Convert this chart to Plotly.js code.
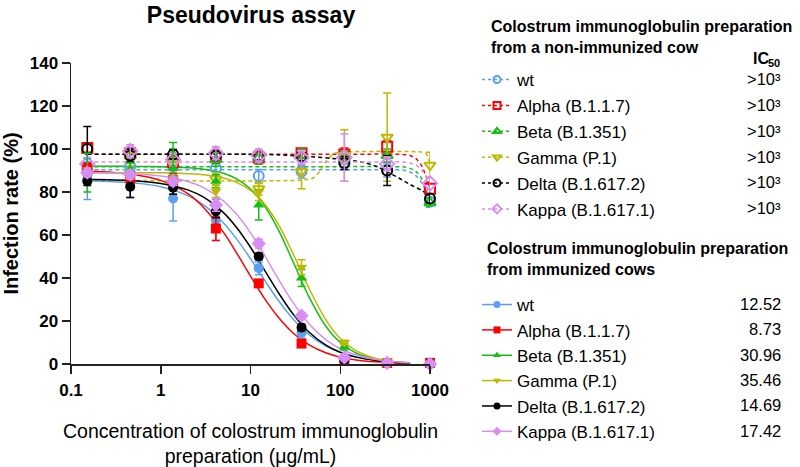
<!DOCTYPE html>
<html>
<head>
<meta charset="utf-8">
<script src="https://cdn.plot.ly/plotly-3.0.1.min.js"></script>
<style>html,body{margin:0;padding:0;background:#fff;}#chart{width:800px;height:467px;}</style>
</head>
<body>
<div id="chart"></div>
<script>
// ---------------- DATA ----------------
const conc = [0.152, 0.457, 1.372, 4.115, 12.35, 37.04, 111.1, 333.3, 1000];
const variants = ['wt', 'Alpha (B.1.1.7)', 'Beta (B.1.351)', 'Gamma (P.1)', 'Delta (B.1.617.2)', 'Kappa (B.1.617.1)'];
const ic50NonImmunized = ['>10\u00b3', '>10\u00b3', '>10\u00b3', '>10\u00b3', '>10\u00b3', '>10\u00b3'];
const ic50Immunized = ['12.52', '8.73', '30.96', '35.46', '14.69', '17.42'];

// immunized cows (mean, SD)
const wtImm = [86, 84.5, 77, 67, 44.5, 14.5, 2, 0.5, 0.5];
const wtImmErr = [9.5, 7, 10.5, 9.5, 3, 2.5, 1, 0.5, 0.5];
const alphaImm = [91, 86.5, 85.5, 63, 37.5, 9.5, 1.5, 0.5, 0.5];
const alphaImmErr = [2.5, 3, 3, 5.5, 1.5, 1, 0.5, 0.5, 0.5];
const betaImm = [89, 90.5, 91, 85, 74, 40, 8, 0.5, 0];
const betaImmErr = [9, 3, 12, 3, 7, 4, 1.5, 0.5, 0.5];
const gammaImm = [89, 88, 86, 80.5, 80, 45, 10, 1.5, 0.5];
const gammaImmErr = [2, 2, 2, 3, 4, 3.5, 1, 0.5, 0.5];
const deltaImm = [85, 82.5, 82, 71, 50, 17, 2, 0.5, 0];
const deltaImmErr = [2, 5, 3, 3, 1.5, 1.5, 0.5, 0.5, 0.5];
const kappaImm = [89, 88, 85, 74, 56, 22.5, 3, 0.5, 0];
const kappaImmErr = [2, 2, 2, 3, 2, 1.5, 0.5, 0.5, 0.5];

// non-immunized cow (mean, SD)
const wtNon = [91, 92, 92, 91, 87.5, 89.5, 93.5, 90, 75.5];
const wtNonErr = [3, 3, 3, 3, 3, 3, 3, 3, 2];
const alphaNon = [100.5, 98, 94, 96.5, 96, 98, 97.5, 101, 81.5];
const alphaNonErr = [2, 2, 3, 3, 3, 2, 3, 3, 3];
const betaNon = [90, 97, 97, 95, 96, 97, 96, 97, 75];
const betaNonErr = [3, 3, 3, 3, 3, 3, 3, 3, 2];
const gammaNon = [88, 95, 93, 86, 81.5, 89.5, 97, 105.5, 92.5];
const gammaNonErr = [3, 3, 3, 3, 3, 8, 12, 20.5, 6];
const deltaNon = [100, 97, 97.5, 97, 97, 96.5, 93.5, 90, 77];
const deltaNonErr = [10.5, 3, 2, 2, 2, 2, 3, 7, 2];
const kappaNon = [93, 99, 95, 98, 97, 96, 96, 93, 84];
const kappaNonErr = [3, 3, 3, 3, 3, 3, 11, 3, 3];

// fitted curves, immunized
const fitX = [0.15, 0.3, 0.6, 1, 2, 3, 5, 7, 10, 14, 20, 30, 45, 70, 100, 150, 250, 400, 600];
const wtFit = [85.2, 84.8, 83.9, 82.4, 78.3, 74.0, 65.6, 58.2, 49.0, 39.7, 30.1, 20.8, 13.6, 8.2, 5.4, 3.3, 1.7, 0.9, 0.6];
const alphaFit = [89.6, 89.1, 87.6, 85.4, 79.2, 72.8, 61.2, 51.7, 40.9, 31.1, 22.2, 14.3, 8.9, 5.1, 3.2, 1.9, 1.0, 0.5, 0.3];
const betaFit = [92.0, 92.0, 91.9, 91.8, 91.3, 90.6, 88.7, 86.1, 81.4, 74.2, 63.2, 47.3, 31.1, 17.2, 10.0, 5.1, 2.1, 0.9, 0.4];
const gammaFit = [89.0, 89.0, 88.9, 88.9, 88.5, 88.0, 86.5, 84.5, 80.7, 75.0, 65.6, 51.1, 35.1, 20.2, 11.9, 6.2, 2.6, 1.1, 0.5];
const deltaFit = [85.9, 85.6, 85.0, 84.0, 81.0, 77.6, 70.4, 63.5, 54.3, 44.4, 33.8, 23.1, 14.8, 8.7, 5.5, 3.2, 1.6, 0.8, 0.5];
const kappaFit = [88.9, 88.7, 88.2, 87.4, 84.9, 82.0, 75.8, 69.6, 61.0, 51.3, 40.2, 28.4, 18.6, 11.1, 7.1, 4.2, 2.1, 1.1, 0.6];

// fitted curves, non-immunized
const flatFitX = [0.152, 100, 400, 500, 600, 700, 800, 900, 1000];
const wtNonFit = [90.3, 90.3, 90.3, 90.2, 89.3, 87.5, 84.5, 80.5, 76];
const alphaNonFit = [97.6, 97.6, 97.6, 97.5, 97.0, 95.5, 92.5, 87.5, 81.5];
const betaNonFit = [91.8, 91.8, 91.8, 91.7, 91.0, 89.5, 86.5, 81.5, 75.5];
const kappaNonFit = [94.0, 94.0, 94.0, 94.0, 93.5, 92.5, 90.5, 87.5, 84];
const gammaNonFitX = [0.152, 35, 50, 60, 70, 85, 110, 800, 900, 1000];
const gammaNonFit = [85.5, 85.5, 86.5, 90, 94.5, 97.8, 98.6, 98.6, 98, 93];
const deltaNonFitX = [0.152, 10, 20, 40, 100, 170, 250, 330, 450, 600, 800, 1000];
const deltaNonFit = [97.6, 97.5, 97.3, 96.6, 95.3, 94.0, 92.0, 89.5, 86.5, 83.5, 80.8, 78];

const xTickVals = [0.1, 1, 10, 100, 1000];
const xTickText = ['0.1', '1', '10', '100', '1000'];
const yTickVals = [0, 20, 40, 60, 80, 100, 120, 140];

// ---------------- STYLE ----------------
const colors = ['#5AA0F0', '#FF0000', '#14BE14', '#BFB800', '#000000', '#D98CF2'];
const symbols = ['circle', 'square', 'triangle-up', 'triangle-down', 'circle', 'diamond'];
const FONT = 'Arial, "Liberation Sans", Helvetica, sans-serif';

const immData = [wtImm, alphaImm, betaImm, gammaImm, deltaImm, kappaImm];
const immErr = [wtImmErr, alphaImmErr, betaImmErr, gammaImmErr, deltaImmErr, kappaImmErr];
const nonData = [wtNon, alphaNon, betaNon, gammaNon, deltaNon, kappaNon];
const nonErr = [wtNonErr, alphaNonErr, betaNonErr, gammaNonErr, deltaNonErr, kappaNonErr];
const immFits = [wtFit, alphaFit, betaFit, gammaFit, deltaFit, kappaFit];
const nonFitsX = [flatFitX, flatFitX, flatFitX, gammaNonFitX, deltaNonFitX, flatFitX];
const nonFits = [wtNonFit, alphaNonFit, betaNonFit, gammaNonFit, deltaNonFit, kappaNonFit];

const traces = [];
// dashed fits (non-immunized)
for (let i = 0; i < 6; i++) {
  traces.push({x: nonFitsX[i], y: nonFits[i], mode: 'lines', type: 'scatter', showlegend: false, hoverinfo: 'skip',
    line: {color: colors[i], width: 1.5, dash: '4px,3px', shape: 'spline', smoothing: 0.7}});
}
// solid fits (immunized)
for (let i = 0; i < 6; i++) {
  traces.push({x: fitX, y: immFits[i], mode: 'lines', type: 'scatter', showlegend: false, hoverinfo: 'skip',
    line: {color: colors[i], width: 1.5, shape: 'spline', smoothing: 1}});
}
// open markers (non-immunized)
for (let i = 0; i < 6; i++) {
  traces.push({x: conc, y: nonData[i], mode: 'markers', type: 'scatter', showlegend: false, cliponaxis: false,
    name: variants[i] + ' (non-immunized)',
    marker: {symbol: symbols[i] + '-open', size: symbols[i] === 'diamond' ? 11 : 10, color: colors[i], line: {color: colors[i], width: 2}},
    error_y: {type: 'data', array: nonErr[i], color: colors[i], thickness: 1.5, width: 4}});
}
// filled markers (immunized)
for (let i = 0; i < 6; i++) {
  traces.push({x: conc, y: immData[i], mode: 'markers', type: 'scatter', showlegend: false, cliponaxis: false,
    name: variants[i] + ' (immunized)',
    marker: {symbol: symbols[i], size: symbols[i] === 'diamond' ? 11 : 10, color: colors[i]},
    error_y: {type: 'data', array: immErr[i], color: colors[i], thickness: 1.5, width: 4}});
}
// legend entries (no data; they only carry the legend samples)
for (let i = 0; i < 6; i++) {
  traces.push({x: [null], y: [null], mode: 'lines+markers', type: 'scatter', legend: 'legend', legendgroup: 'n' + i,
    name: variants[i],
    line: {color: colors[i], width: 1.5, dash: '3px,3px'},
    marker: {symbol: symbols[i] + '-open', size: 7, color: colors[i], line: {color: colors[i], width: 2}}});
}
for (let i = 0; i < 6; i++) {
  traces.push({x: [null], y: [null], mode: 'lines+markers', type: 'scatter', legend: 'legend2', legendgroup: 'i' + i,
    name: variants[i],
    line: {color: colors[i], width: 1.5},
    marker: {symbol: symbols[i], size: 7, color: colors[i]}});
}

// ---------------- LAYOUT ----------------
const L = 71, R = 430, T = 63, B = 364;
const px2x = px => (px - L) / (R - L);
const px2y = py => (B - py) / (B - T);

const annotations = [];
annotations.push({xref: 'paper', yref: 'paper', x: px2x(489), y: px2y(37), xanchor: 'left', yanchor: 'middle', align: 'left', showarrow: false,
  text: '<b>Colostrum immunoglobulin preparation<br>from a non-immunized cow</b>', font: {family: FONT, size: 16, color: '#000'}});
annotations.push({xref: 'paper', yref: 'paper', x: px2x(771), y: px2y(58), xanchor: 'right', yanchor: 'middle', showarrow: false,
  text: '<b>IC</b>', font: {family: FONT, size: 16, color: '#000'}});
annotations.push({xref: 'paper', yref: 'paper', x: px2x(766), y: px2y(63), xanchor: 'left', yanchor: 'middle', showarrow: false,
  text: '<b>50</b>', font: {family: FONT, size: 11, color: '#000'}});
annotations.push({xref: 'paper', yref: 'paper', x: px2x(485), y: px2y(258.5), xanchor: 'left', yanchor: 'middle', align: 'left', showarrow: false,
  text: '<b>Colostrum immunoglobulin preparation<br>from immunized cows</b>', font: {family: FONT, size: 16, color: '#000'}});
for (let i = 0; i < 6; i++) {
  annotations.push({xref: 'paper', yref: 'paper', x: px2x(783), y: px2y(79 + i * 25.87), xanchor: 'right', yanchor: 'middle', showarrow: false,
    text: ic50NonImmunized[i], font: {family: FONT, size: 16.5, color: '#000'}});
  annotations.push({xref: 'paper', yref: 'paper', x: px2x(783), y: px2y(304 + i * 25.35), xanchor: 'right', yanchor: 'middle', showarrow: false,
    text: ic50Immunized[i], font: {family: FONT, size: 16.5, color: '#000'}});
}

const layout = {
  width: 800, height: 467,
  margin: {l: L, r: 800 - R, t: T, b: 467 - B, pad: 0},
  paper_bgcolor: '#fff', plot_bgcolor: '#fff',
  font: {family: FONT, color: '#000'},
  title: {text: '<b>Pseudovirus assay</b>', font: {family: FONT, size: 23, color: '#000'}, x: 251 / 800, xanchor: 'center', y: 1 - 15 / 467, yanchor: 'middle', xref: 'container', yref: 'container'},
  xaxis: {type: 'log', range: [-1, 3], showgrid: false, zeroline: false, showline: true, linecolor: '#222', linewidth: 1.5,
    ticks: 'outside', ticklen: 8, tickwidth: 1.5, tickcolor: '#222', tickvals: xTickVals, ticktext: xTickText, ticklabelstandoff: 2,
    tickfont: {family: FONT, size: 17, color: '#000', weight: 'bold'},
    title: {text: 'Concentration of colostrum immunoglobulin<br>preparation (\u03bcg/mL)', font: {family: FONT, size: 19.5, color: '#000'}, standoff: 26}},
  yaxis: {range: [0, 140], showgrid: false, zeroline: false, showline: true, linecolor: '#222', linewidth: 1.5,
    ticks: 'outside', ticklen: 8, tickwidth: 1.5, tickcolor: '#222', tickvals: yTickVals,
    tickfont: {family: FONT, size: 17, color: '#000', weight: 'bold'},
    title: {text: '<b>Infection rate (%)</b>', font: {family: FONT, size: 20, color: '#000'}, standoff: 10}},
  legend: {xref: 'container', yref: 'container', x: 477 / 800, y: 1 - 62 / 467, xanchor: 'left', yanchor: 'top', traceorder: 'grouped',
    font: {family: FONT, size: 17, color: '#000'}, bgcolor: 'rgba(0,0,0,0)', borderwidth: 0, itemwidth: 30, tracegroupgap: 0.77},
  legend2: {xref: 'container', yref: 'container', x: 477 / 800, y: 1 - 287 / 467, xanchor: 'left', yanchor: 'top', traceorder: 'grouped',
    font: {family: FONT, size: 17, color: '#000'}, bgcolor: 'rgba(0,0,0,0)', borderwidth: 0, itemwidth: 30, tracegroupgap: 0.25},
  annotations: annotations,
  showlegend: true
};

Plotly.newPlot('chart', traces, layout, {displayModeBar: false, staticPlot: true});
</script>
</body>
</html>
